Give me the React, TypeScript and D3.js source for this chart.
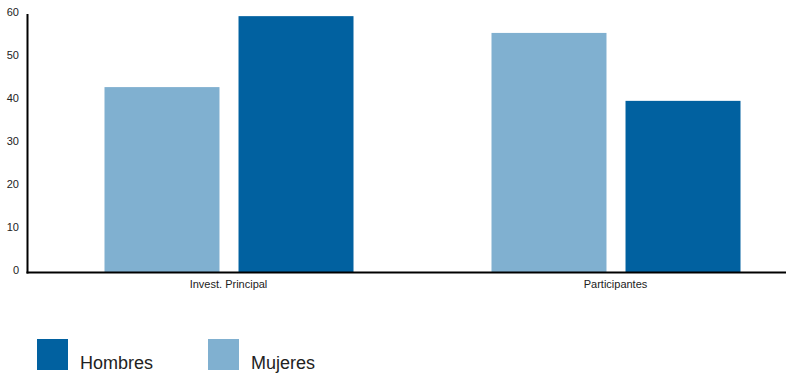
import React from "react";
import * as d3 from "d3";

const categories = ["Invest. Principal", "Participantes"];
const seriesNames = ["Mujeres", "Hombres"];
const mujeres = [43, 55.6];
const hombres = [59.5, 39.8];
const yTicks = [0, 10, 20, 30, 40, 50, 60];
const legendItems = ["Hombres", "Mujeres"];

const colors: Record<string, string> = { Hombres: "#0161a0", Mujeres: "#80b0d0" };

export default function App() {
  const W = 786, H = 378;
  const y = d3.scaleLinear().domain([0, 60]).range([272, 14]);
  const x0 = d3.scaleBand<string>().domain(categories).range([35.5, 809.5]);
  const groupW = 249;
  const x1 = d3.scaleBand<string>().domain(seriesNames).range([0, groupW]).paddingInner(0.142);
  const values: Record<string, number[]> = { Mujeres: mujeres, Hombres: hombres };
  const font = "'Liberation Sans', Arial, Helvetica, sans-serif";
  const legendX = d3.scaleOrdinal<string, number>().domain(legendItems).range([37, 208]);

  return (
    <svg width={W} height={H} style={{ position: "fixed", left: 0, top: 0, background: "#fff" }} fontFamily={font}>
      {categories.map((c, i) => {
        const gx = (x0(c) ?? 0) + (x0.bandwidth() - groupW) / 2;
        return (
          <g key={c}>
            {seriesNames.map((s) => (
              <rect
                key={s}
                x={gx + (x1(s) ?? 0)}
                y={y(values[s][i])}
                width={x1.bandwidth()}
                height={y(0) - y(values[s][i])}
                fill={colors[s]}
              />
            ))}
            <text x={(x0(c) ?? 0) + x0.bandwidth() / 2 - 0.5} y={288} fontSize={11} textAnchor="middle" fill="#222">
              {c}
            </text>
          </g>
        );
      })}
      {yTicks.map((t) => (
        <text key={t} x={19} y={y(t) + 1.5} fontSize={11} textAnchor="end" fill="#222">
          {t}
        </text>
      ))}
      <line x1={27.5} x2={27.5} y1={14} y2={273.5} stroke="#000" strokeWidth={2} />
      <line x1={26.5} x2={786} y1={272.5} y2={272.5} stroke="#000" strokeWidth={2} />
      {legendItems.map((s) => (
        <g key={s}>
          <rect x={legendX(s)} y={339} width={31} height={31} fill={colors[s]} />
          <text x={legendX(s) + 43} y={369} fontSize={18} fill="#222">
            {s}
          </text>
        </g>
      ))}
    </svg>
  );
}
